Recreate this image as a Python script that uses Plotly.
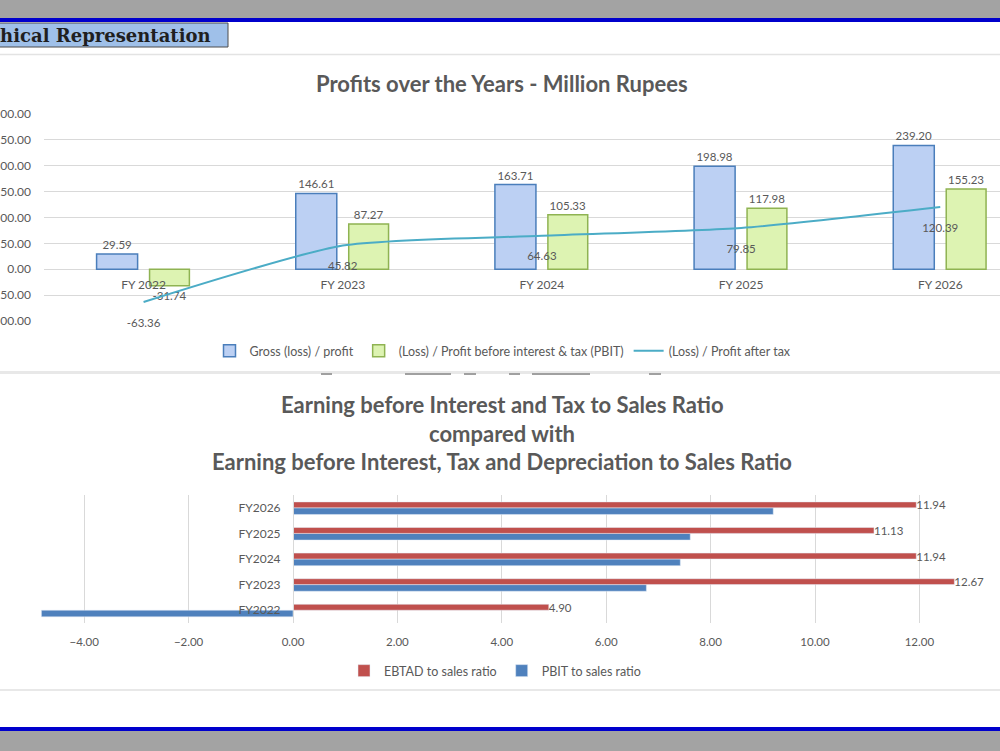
import plotly.graph_objects as go

# ---------------- data ----------------
years = ["FY 2022", "FY 2023", "FY 2024", "FY 2025", "FY 2026"]
gross_profit = [29.59, 146.61, 163.71, 198.98, 239.20]
pbit = [-31.74, 87.27, 105.33, 117.98, 155.23]
pat = [-63.36, 45.82, 64.63, 79.85, 120.39]

ratio_years = ["FY2022", "FY2023", "FY2024", "FY2025", "FY2026"]
ebtad_ratio = [4.90, 12.67, 11.94, 11.13, 11.94]
pbit_ratio = [-4.82, 6.77, 7.42, 7.61, 9.20]

W, H = 1000, 751


def px(x):
    return x / W


def py(y):
    return 1 - y / H


GRAY_TXT = "#595959"
GRID = "#D9D9D9"
FONT = "Lato"
lbl_font = dict(color=GRAY_TXT, size=11.5, family=FONT)

fig = go.Figure()

# ---------------- top chart ----------------
fig.add_trace(go.Bar(
    x=years, y=gross_profit, name="Gross (loss) / profit",
    marker=dict(color="#BCD0F3", line=dict(color="#4A7EBB", width=1.5)),
    width=0.206, offset=-0.236,
    text=[f"{v:.2f}" for v in gross_profit], textposition="outside",
    constraintext="none", textfont=lbl_font,
    xaxis="x", yaxis="y", legend="legend",
))
fig.add_trace(go.Bar(
    x=years, y=pbit, name="(Loss) / Profit before interest & tax (PBIT)",
    marker=dict(color="#DDF3B2", line=dict(color="#8FB352", width=1.5)),
    width=0.2, offset=0.03,
    text=[f"{v:.2f}" for v in pbit], textposition="outside",
    constraintext="none", textfont=lbl_font,
    xaxis="x", yaxis="y", legend="legend",
))
fig.add_trace(go.Scatter(
    x=years, y=pat, name="(Loss) / Profit after tax",
    mode="lines+markers+text",
    line=dict(color="#4BACC6", width=2, shape="spline", smoothing=0.6),
    marker=dict(size=24, color="rgba(0,0,0,0)", line=dict(width=0)),
    text=[f"{v:.2f}" for v in pat], textposition="bottom center",
    textfont=lbl_font, cliponaxis=False,
    xaxis="x", yaxis="y", legend="legend",
))

# ---------------- bottom chart ----------------
fig.add_trace(go.Bar(
    y=ratio_years, x=pbit_ratio, orientation="h", name="PBIT to sales ratio",
    marker=dict(color="#4F81BD"), width=0.26, offset=-0.26,
    xaxis="x2", yaxis="y2", legend="legend2",
))
fig.add_trace(go.Bar(
    y=ratio_years, x=ebtad_ratio, orientation="h", name="EBTAD to sales ratio",
    marker=dict(color="#C0504D"), width=0.23, offset=0.0,
    text=[f"{v:.2f}" for v in ebtad_ratio], textposition="outside",
    constraintext="none", textfont=lbl_font, cliponaxis=False,
    xaxis="x2", yaxis="y2", legend="legend2",
))

tickfont_top = dict(color=GRAY_TXT, size=12, family=FONT)
tickfont_bot = dict(color=GRAY_TXT, size=11.5, family=FONT)

fig.update_layout(
    width=W, height=H,
    margin=dict(l=0, r=0, t=0, b=0),
    paper_bgcolor="white", plot_bgcolor="rgba(0,0,0,0)",
    barmode="group",
    font=dict(family=FONT, color=GRAY_TXT),
    xaxis=dict(
        domain=[px(44), 1.0], range=[-0.5, 4.3], type="category",
        anchor="free", position=py(269.5),
        showgrid=False, showline=False, ticks="", tickfont=tickfont_top,
        ticklabelstandoff=6, automargin=False,
    ),
    yaxis=dict(
        domain=[py(321), py(114)], range=[-100, 300], dtick=50,
        tickformat=".2f", gridcolor=GRID, gridwidth=1,
        zeroline=True, zerolinecolor=GRID, zerolinewidth=1,
        showline=False, ticks="", tickfont=tickfont_top,
        ticklabelstandoff=12, automargin=False, anchor="x",
    ),
    xaxis2=dict(
        domain=[0, 1], range=[-293 / 52.2, 707 / 52.2], dtick=2, tick0=0,
        tickformat=".2f", gridcolor=GRID, gridwidth=1, zeroline=False,
        showline=False, ticks="", tickfont=tickfont_bot,
        ticklabelstandoff=10, automargin=False, anchor="y2",
    ),
    yaxis2=dict(
        domain=[py(623), py(495)], range=[-0.5, 4.5], type="category",
        anchor="free", position=px(293), showgrid=False,
        showline=True, linecolor=GRID, linewidth=1,
        ticks="", tickfont=dict(color=GRAY_TXT, size=12, family=FONT),
        ticklabelstandoff=10, automargin=False,
    ),
    legend=dict(
        orientation="h", x=0.503, xanchor="center", y=py(351), yanchor="middle",
        font=dict(size=12.5, color=GRAY_TXT, family=FONT),
        bgcolor="rgba(0,0,0,0)", itemwidth=30,
    ),
    legend2=dict(
        orientation="h", x=0.495, xanchor="center", y=py(671), yanchor="middle",
        font=dict(size=12.5, color=GRAY_TXT, family=FONT),
        bgcolor="rgba(0,0,0,0)", traceorder="reversed", itemwidth=30,
    ),
    showlegend=True,
)

# ---------------- decorations ----------------
P = dict(xref="paper", yref="paper")
shapes = [
    dict(type="rect", x0=0, x1=1, y0=py(18), y1=1, fillcolor="#A3A3A3", line_width=0, **P),
    dict(type="rect", x0=0, x1=1, y0=py(22), y1=py(18), fillcolor="#0000CC", line_width=0, **P),
    dict(type="rect", x0=0, x1=1, y0=py(731), y1=py(727), fillcolor="#0000CC", line_width=0, **P),
    dict(type="rect", x0=0, x1=1, y0=0, y1=py(731), fillcolor="#A3A3A3", line_width=0, **P),
    dict(type="rect", x0=px(-2), x1=px(228), y0=py(47), y1=py(23),
         fillcolor="#9FC0E9", line=dict(color="#4D4D4D", width=1), **P),
    dict(type="line", x0=0, x1=1, y0=py(54.5), y1=py(54.5),
         line=dict(color="#E3E3E3", width=1.5), **P),
    dict(type="rect", x0=0, x1=1, y0=py(374), y1=py(371), fillcolor="#E8E8E8", line_width=0, **P),
    dict(type="line", x0=0, x1=1, y0=py(690), y1=py(690),
         line=dict(color="#E0E0E0", width=1.5), **P),
]
for a, b in [(321, 332), (405, 451), (464, 476), (509, 520), (532, 590), (649, 661)]:
    shapes.append(dict(type="rect", x0=px(a), x1=px(b), y0=py(375), y1=py(373),
                       fillcolor="#A0A0A0", line_width=0, **P))
fig.update_layout(shapes=shapes)

title_font = dict(family=FONT, size=22, color=GRAY_TXT, weight="bold")
annotations = [
    dict(text="Graphical Representation", x=px(213), y=py(35), xanchor="right",
         yanchor="middle", showarrow=False,
         font=dict(family="DejaVu Serif", size=18, color="#1F1F1F", weight="bold"), **P),
    dict(text="Profits over the Years - Million Rupees", x=px(502), y=py(83),
         xanchor="center", yanchor="middle", showarrow=False, font=title_font, **P),
    dict(text="Earning before Interest and Tax to Sales Ratio", x=px(502), y=py(404),
         xanchor="center", yanchor="middle", showarrow=False, font=title_font, **P),
    dict(text="compared with", x=px(502), y=py(433),
         xanchor="center", yanchor="middle", showarrow=False, font=title_font, **P),
    dict(text="Earning before Interest, Tax and Depreciation to Sales Ratio", x=px(502), y=py(461),
         xanchor="center", yanchor="middle", showarrow=False, font=title_font, **P),
]
fig.update_layout(annotations=annotations)

fig.write_html("out.html")
